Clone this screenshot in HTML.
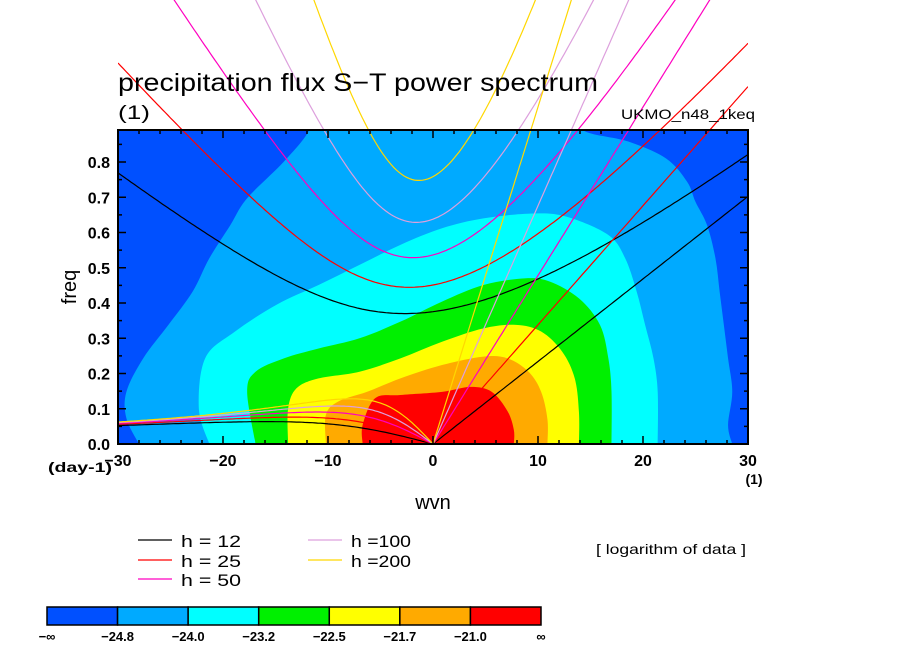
<!DOCTYPE html>
<html><head><meta charset="utf-8"><style>
html,body{margin:0;padding:0;background:#fff;}
svg{display:block;font-family:"Liberation Sans",sans-serif;}
</style></head><body>
<svg id="chart" width="904" height="654" viewBox="0 0 904 654" xmlns="http://www.w3.org/2000/svg">
<defs><clipPath id="plotclip"><rect x="118" y="130" width="630" height="314"/></clipPath>
<clipPath id="xclip"><rect x="118" y="0" width="630" height="444"/></clipPath></defs>
<rect x="118" y="130" width="630" height="314" fill="#0050ff"/>
<g id="contours" clip-path="url(#plotclip)"></g>
<g id="curves" clip-path="url(#xclip)"></g>
<rect x="118" y="130" width="630" height="314" fill="none" stroke="#000" stroke-width="2"/>
<g id="ticks"></g>
<text x="118" y="91" font-size="25" textLength="480" lengthAdjust="spacingAndGlyphs">precipitation flux S−T power spectrum</text>
<text x="118" y="119" font-size="19" textLength="32" lengthAdjust="spacingAndGlyphs">(1)</text>
<text x="621" y="119" font-size="14" textLength="134" lengthAdjust="spacingAndGlyphs">UKMO_n48_1keq</text>
<text transform="translate(76,287) rotate(-90)" font-size="20" text-anchor="middle">freq</text>
<text x="433" y="509" font-size="20" text-anchor="middle">wvn</text>
<text x="48" y="472" font-size="14" font-weight="bold" textLength="64" lengthAdjust="spacingAndGlyphs">(day-1)</text>
<text x="754" y="484" font-size="14" font-weight="bold" text-anchor="middle">(1)</text>
<g id="legend"></g>
<text x="596" y="554" font-size="14" textLength="150" lengthAdjust="spacingAndGlyphs">[ logarithm of data ]</text>
<g id="colorbar"></g>
</svg>
<script>
const NS="http://www.w3.org/2000/svg";
// data
const depths=[12,25,50,100,200];
const depthColors=["#000000","#ff0000","#ff00c0","#dda0dd","#ffd700"];
const levelColors=["#00aaff","#00ffff","#00f000","#ffff00","#ffaa00","#ff0000"];
const levelLabels=["−∞","−24.8","−24.0","−23.2","−22.5","−21.7","−21.0","∞"];
const xTicks=[-30,-20,-10,0,10,20,30];
const yTicks=[0,0.1,0.2,0.3,0.4,0.5,0.6,0.7,0.8];
const lev1=[[-28,0],[-29.2,0.073],[-29.2,0.148],[-27.6,0.243],[-25.2,0.338],[-22.9,0.432],[-21.3,0.527],[-19.3,0.621],[-17.7,0.697],[-14.2,0.801],[-11.8,0.89],[-11.8,0.95],[14.3,0.95],[14.3,0.89],[18.6,0.858],[22.2,0.81],[24.2,0.744],[25.0,0.687],[26.1,0.621],[26.9,0.527],[27.3,0.432],[27.7,0.338],[28.1,0.243],[28.5,0.148],[28.1,0.054],[28.5,0]];
const lev2=[[-21.3,0],[-22.3,0.10],[-21.7,0.243],[-18.9,0.318],[-14.9,0.395],[-10.9,0.451],[-7.0,0.508],[-3.1,0.565],[0.86,0.612],[4.8,0.640],[9.5,0.654],[12.7,0.645],[16.7,0.593],[18.3,0.527],[19.4,0.432],[20.2,0.338],[21.0,0.243],[21.4,0.148],[21.4,0]];
const lev3=[[-16.9,0],[-17.7,0.148],[-16.9,0.205],[-14.2,0.243],[-10.9,0.271],[-7.0,0.300],[-3.1,0.347],[0.86,0.404],[4.8,0.451],[8.7,0.470],[11.1,0.461],[13.9,0.413],[15.9,0.338],[16.7,0.243],[17.0,0.148],[17.0,0]];
const lev4=[[-13.8,0],[-13.8,0.10],[-13.0,0.158],[-10.9,0.186],[-7.0,0.205],[-3.1,0.243],[0.86,0.290],[4.8,0.328],[7.9,0.338],[10.3,0.319],[12.3,0.262],[13.5,0.186],[13.9,0.09],[13.9,0]];
const lev5=[[-10.2,0],[-10.2,0.083],[-9.0,0.121],[-6.3,0.148],[-3.1,0.186],[0.86,0.224],[4.8,0.248],[7.1,0.243],[9.1,0.205],[10.3,0.148],[10.9,0.07],[10.9,0]];
const lev6=[[-6.7,0],[-6.7,0.054],[-5.5,0.130],[-3.1,0.139],[0.86,0.148],[3.6,0.162],[5.6,0.148],[7.1,0.093],[7.7,0.04],[7.7,0]];
const levels=[lev1,lev2,lev3,lev4,lev5,lev6];

const X=k=>433+k*10.5, Y=f=>444-f*352.5;
function el(tag,attrs,parent){const e=document.createElementNS(NS,tag);for(const a in attrs)e.setAttribute(a,attrs[a]);parent.appendChild(e);return e;}
function smooth(pts){const p=pts.map(d=>[X(d[0]),Y(d[1])]);let s=`M${p[0][0]},${444}L${p[0][0]},${p[0][1]}`;
 for(let i=0;i<p.length-1;i++){const p0=p[Math.max(0,i-1)],p1=p[i],p2=p[i+1],p3=p[Math.min(p.length-1,i+2)];
  s+=`C${p1[0]+(p2[0]-p0[0])/6},${p1[1]+(p2[1]-p0[1])/6} ${p2[0]-(p3[0]-p1[0])/6},${p2[1]-(p3[1]-p1[1])/6} ${p2[0]},${p2[1]}`;}
 return s+`L${p[p.length-1][0]},444Z`;}
const cg=document.getElementById('contours');
levels.forEach((lv,i)=>{const e=el('path',{d:smooth(lv),fill:levelColors[i]},cg);
 
 });

// dispersion curves (full cubic: w^3 - (c^2k^2+3bc) w - b c^2 k = 0)
const g=9.81,beta=2.29e-11,R=6.371e6,toCpd=86400/(2*Math.PI);
function root(c,k,w0){let w=w0;for(let n=0;n<60;n++){const f=w*w*w-(c*c*k*k+3*beta*c)*w-beta*c*c*k;const d=3*w*w-(c*c*k*k+3*beta*c);w-=f/d;}return w;}
const cv=document.getElementById('curves');
depths.forEach((h,i)=>{const c=Math.sqrt(g*h);let eig=[],kel=[],er=[];
 for(let s=-30;s<=30.001;s+=0.25){const k=s/R;
  const w1=root(c,k,2*Math.sqrt(3*beta*c+k*k*c*c));
  eig.push([X(s),Y(w1*toCpd)]);
  if(s>=0)kel.push([X(s),Y(c*k*toCpd)]);
  if(s<0){const w2=root(c,k,-beta*k/(k*k+3*beta/c));er.push([X(s),Y(w2*toCpd)]);}
  if(s===0)er.push([X(0),Y(0)]);}
 [['eig',eig],['kelvin',kel],['er',er]].forEach(([nm,pts])=>{
  const e=el('polyline',{points:pts.map(p=>p[0].toFixed(1)+','+p[1].toFixed(1)).join(' '),fill:'none',stroke:depthColors[i],'stroke-width':1.2},cv);
  
  });});

// ticks
const tg=document.getElementById('ticks');
for(let s=-30;s<=30;s+=2){const L=(s%10===0)?8:4;
 el('line',{x1:X(s),x2:X(s),y1:444,y2:444-L,stroke:'#000','stroke-width':1.5},tg);
 el('line',{x1:X(s),x2:X(s),y1:130,y2:130+L,stroke:'#000','stroke-width':1.5},tg);}
for(let j=0;j<=17;j++){const f=j*0.05,L=(j%2===0)?8:4;
 el('line',{x1:118,x2:118+L,y1:Y(f),y2:Y(f),stroke:'#000','stroke-width':1.5},tg);
 el('line',{x1:748,x2:748-L,y1:Y(f),y2:Y(f),stroke:'#000','stroke-width':1.5},tg);}
xTicks.forEach(v=>{const t=el('text',{x:X(v),y:466,'font-size':16,'font-weight':'bold','text-anchor':'middle'},tg);t.textContent=v<0?'−'+(-v):v;
 
 });
yTicks.forEach(v=>{const t=el('text',{x:110,y:Y(v)+6,'font-size':16,'font-weight':'bold','text-anchor':'end'},tg);t.textContent=v.toFixed(1);
 
 });

// legend
const lg=document.getElementById('legend');
const legPos=[[138,540],[138,560],[138,579],[308,540],[308,560]];
const legText=["h = 12","h = 25","h = 50","h =100","h =200"];
depths.forEach((h,i)=>{const [x,y]=legPos[i];
 const gI=el('g',{},lg);
 
 
 el('line',{x1:x,x2:x+34,y1:y,y2:y,stroke:depthColors[i],'stroke-width':1.2},gI);
 const t=el('text',{x:x+43,y:y+7,'font-size':17,textLength:60,lengthAdjust:'spacingAndGlyphs'},gI);t.textContent=legText[i];});

// colorbar
const cb=document.getElementById('colorbar');
const cbColors=["#0050ff"].concat(levelColors);
const w=494/7;
cbColors.forEach((c,i)=>{const r=el('rect',{x:47+i*w,y:607,width:w,height:18,fill:c,stroke:'#000','stroke-width':1.5},cb);
 
 });
levelLabels.forEach((l,i)=>{const t=el('text',{x:47+i*w,y:641,'font-size':13,'font-weight':'bold','text-anchor':'middle'},cb);t.textContent=l;
 
 });
</script>
</body></html>
